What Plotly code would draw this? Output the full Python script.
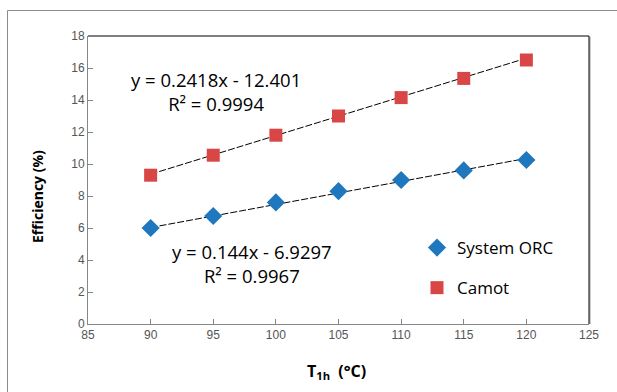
import plotly.graph_objects as go

# Data
temps = [90, 95, 100, 105, 110, 115, 120]
orc_eff = [6.0, 6.75, 7.6, 8.3, 9.0, 9.6, 10.25]
carnot_eff = [9.3, 10.55, 11.8, 13.0, 14.15, 15.35, 16.5]

# Trendline coefficients (as printed on the chart)
orc_slope, orc_intercept = 0.144, -6.9297
carnot_slope, carnot_intercept = 0.2418, -12.401

x_ticks = [85, 90, 95, 100, 105, 110, 115, 120, 125]
y_ticks = [0, 2, 4, 6, 8, 10, 12, 14, 16, 18]

W, H = 617, 392
L, R, T, B = 88, 28, 36, 68
pw, ph = W - L - R, H - T - B

def px(xp):
    return (xp - L) / pw

def py(yp):
    return (H - B - yp) / ph

blue = "#1F78BE"
red = "#D94646"
axis_grey = "#868686"

trend_x = [temps[0], temps[-1]]

fig = go.Figure()
fig.add_trace(go.Scatter(
    x=trend_x, y=[carnot_slope * t + carnot_intercept for t in trend_x],
    mode="lines", line=dict(color="black", width=1, dash="7px,2px"),
    showlegend=False, hoverinfo="skip"))
fig.add_trace(go.Scatter(
    x=trend_x, y=[orc_slope * t + orc_intercept for t in trend_x],
    mode="lines", line=dict(color="black", width=1, dash="7px,2px"),
    showlegend=False, hoverinfo="skip"))
fig.add_trace(go.Scatter(
    x=temps, y=orc_eff, mode="markers", name="System ORC",
    marker=dict(symbol="diamond", size=14, color=blue),
    legendgroup="a"))
fig.add_trace(go.Scatter(
    x=temps, y=carnot_eff, mode="markers", name="Camot",
    marker=dict(symbol="square", size=13, color=red),
    legendgroup="b"))

axis_common = dict(
    showgrid=False, zeroline=False, showline=True, linecolor=axis_grey,
    linewidth=1, ticks="inside", ticklen=5, tickcolor=axis_grey,
    tickfont=dict(family="Liberation Sans, Arial", size=12, color="#555555"),
)

fig.update_xaxes(range=[85, 125], tickvals=x_ticks, **axis_common)
fig.update_yaxes(range=[0, 18], tickvals=y_ticks,
                 ticksuffix="\u00a0\u00a0\u00a0\u00a0", **axis_common)

eq_font = dict(family="Open Sans, Noto Sans", size=18.5, color="black")
annotations = [
    dict(text="y = 0.2418x - 12.401<br>R² = 0.9994", x=px(216), y=py(91.5)),
    dict(text="y = 0.144x - 6.9297<br>R² = 0.9967", x=px(252), y=py(263.5)),
]
anns = []
for a in annotations:
    anns.append(dict(xref="paper", yref="paper", showarrow=False,
                     xanchor="center", yanchor="middle", align="center",
                     font=eq_font, **a))
anns.append(dict(xref="paper", yref="paper", showarrow=False,
                 text="<b>T<sub>1h</sub>  (°C)</b>", x=px(336), y=py(371),
                 xanchor="center", yanchor="middle",
                 font=dict(family="Open Sans, Noto Sans", size=16, color="black")))
anns.append(dict(xref="paper", yref="paper", showarrow=False,
                 text="<b>Efficiency (%)</b>", x=px(37), y=py(197),
                 textangle=-90, xanchor="center", yanchor="middle",
                 font=dict(family="Open Sans, Noto Sans", size=14, color="black")))

shapes = [
    # outer chart border (left and top only visible)
    dict(type="line", xref="paper", yref="paper", x0=px(7.5), x1=px(700),
         y0=py(10.5), y1=py(10.5), line=dict(color="#8C8C8C", width=1)),
    dict(type="line", xref="paper", yref="paper", x0=px(7.5), x1=px(7.5),
         y0=py(10.5), y1=py(500), line=dict(color="#8C8C8C", width=1)),
    # plot area top and right borders
    dict(type="line", xref="paper", yref="paper", x0=0, x1=1, y0=1, y1=1,
         line=dict(color="black", width=1)),
    dict(type="line", xref="paper", yref="paper", x0=px(590), x1=px(590), y0=py(37), y1=0,
         line=dict(color="#9A9A9A", width=1)),
    dict(type="line", xref="paper", yref="paper", x0=1, x1=1, y0=0, y1=1,
         line=dict(color="black", width=1)),
]

fig.update_layout(
    width=W, height=H,
    margin=dict(l=L, r=R, t=T, b=B),
    paper_bgcolor="white", plot_bgcolor="white",
    annotations=anns, shapes=shapes,
    legend=dict(x=px(417), y=py(230), xanchor="left", yanchor="top",
                bgcolor="rgba(0,0,0,0)", tracegroupgap=15,
                font=dict(family="Open Sans, Noto Sans", size=17, color="black"),
                traceorder="grouped"),
)

fig.write_html("out.html", config={"displayModeBar": False},
               post_script="document.body.style.margin='0';document.body.style.overflow='hidden';")
